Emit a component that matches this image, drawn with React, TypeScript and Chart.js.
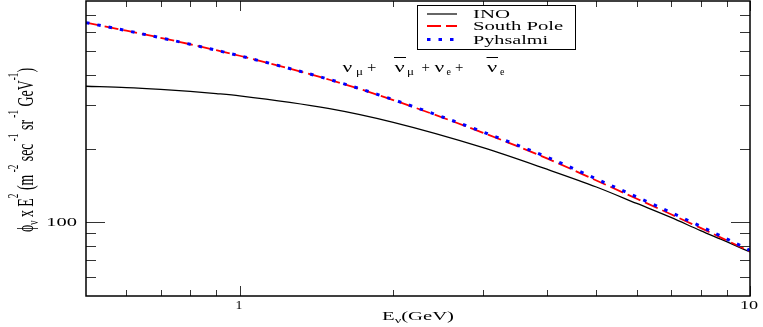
import React, { useEffect, useRef } from "react";
import { Chart, registerables } from "chart.js";
Chart.register(...registerables);

// ---- data ----
const energies = [0.5, 0.6, 0.7, 0.8, 0.9, 1, 1.5, 2, 3, 4, 5, 6, 7, 8, 9, 10];
const inoFlux = [359, 354.7, 348.7, 342.1, 335.2, 328.1, 290.9, 255.7, 201.6, 164.6, 139.3, 119.3, 104.6, 92.4, 83.3, 75.6];
const southPoleFlux = [652.8, 605.4, 566.3, 532.8, 503.6, 478.2, 381.6, 315.3, 231.7, 182.3, 148.1, 124.7, 107.8, 94.8, 84.4, 76.0];
const pyhsalmiFlux = [652.8, 605.4, 566.3, 532.8, 503.6, 478.2, 382.5, 316.5, 233.5, 184.5, 150.3, 126.8, 109.6, 96.3, 85.6, 76.8];

const seriesNames = ["INO", "South Pole", "Pyhsalmi"];
const xMajorTicks = [1, 10];
const xMinorTicks = [0.6, 0.7, 0.8, 0.9, 2, 3, 4, 5, 6, 7, 8, 9];
const yMajorTicks = [100];
const yMinorTicks = [60, 70, 80, 90, 200, 300, 400, 500, 600, 700];
const xTickLabels = ["1", "10"];
const yTickLabels = ["100"];

const SERIF = "'Liberation Serif', 'DejaVu Serif', serif";

type Run = { t: string; s: number; dy?: number };

function ink(ctx: CanvasRenderingContext2D, t: string, size: number) {
  ctx.font = `${size}px ${SERIF}`;
  const m = ctx.measureText(t);
  return { l: m.actualBoundingBoxLeft, w: m.actualBoundingBoxLeft + m.actualBoundingBoxRight };
}

// draw text whose ink starts at x and is stretched horizontally to width w
function fitText(ctx: CanvasRenderingContext2D, t: string, x: number, y: number, size: number, w: number) {
  const k = ink(ctx, t, size);
  const sx = w / k.w;
  ctx.save();
  ctx.translate(x, y);
  ctx.scale(sx, 1);
  ctx.font = `${size}px ${SERIF}`;
  ctx.textAlign = "left";
  ctx.fillText(t, k.l, 0);
  ctx.restore();
}

function runsWidth(ctx: CanvasRenderingContext2D, runs: Run[]) {
  let w = 0;
  for (const r of runs) {
    ctx.font = `${r.s}px ${SERIF}`;
    w += ctx.measureText(r.t).width;
  }
  return w;
}

function drawRuns(ctx: CanvasRenderingContext2D, runs: Run[], x: number) {
  let cx = x;
  for (const r of runs) {
    ctx.font = `${r.s}px ${SERIF}`;
    ctx.fillText(r.t, cx, r.dy || 0);
    cx += ctx.measureText(r.t).width;
  }
}

const decorPlugin = {
  id: "decor",
  afterDraw(chart: any) {
    const ctx: CanvasRenderingContext2D = chart.ctx;
    const { left, right, top, bottom } = chart.chartArea;
    const xs = chart.scales.x;
    const ys = chart.scales.y;
    ctx.save();
    ctx.fillStyle = "#000";
    ctx.strokeStyle = "#000";
    ctx.textBaseline = "alphabetic";

    // ticks (inward)
    ctx.lineWidth = 1;
    ctx.strokeStyle = "#333";
    const xt = (v: number, len: number) => {
      const p = Math.round(xs.getPixelForValue(v)) + 0.5;
      ctx.beginPath();
      ctx.moveTo(p, bottom);
      ctx.lineTo(p, bottom - len);
      ctx.moveTo(p, top);
      ctx.lineTo(p, top + len);
      ctx.stroke();
    };
    const yt = (v: number, len: number) => {
      const p = Math.round(ys.getPixelForValue(v)) + 0.5;
      ctx.beginPath();
      ctx.moveTo(left, p);
      ctx.lineTo(left + len, p);
      ctx.moveTo(right, p);
      ctx.lineTo(right - len, p);
      ctx.stroke();
    };
    xMinorTicks.forEach((v) => xt(v, 6));
    xMajorTicks.forEach((v) => xt(v, 10));
    yMinorTicks.forEach((v) => yt(v, 10));
    yMajorTicks.forEach((v) => yt(v, 19));

    // frame
    ctx.strokeStyle = "#000";
    ctx.lineWidth = 1.5;
    ctx.strokeRect(left, top, right - left, bottom - top);

    // tick labels
    ctx.fillStyle = "#000";
    const xLabelW = [6, 17];
    xMajorTicks.forEach((v, i) => {
      const p = xs.getPixelForValue(v);
      fitText(ctx, xTickLabels[i], p - xLabelW[i] / 2, bottom + 12.5, 11.5, xLabelW[i]);
    });
    yMajorTicks.forEach((v, i) => {
      const p = ys.getPixelForValue(v);
      fitText(ctx, yTickLabels[i], left - 38, p + 4, 12, 29);
    });

    // x title
    {
      const runs: Run[] = [
        { t: "E", s: 13 },
        { t: "ν", s: 9, dy: 3 },
        { t: "(GeV)", s: 13 },
      ];
      const w = runsWidth(ctx, runs);
      const sx = 72 / w;
      ctx.save();
      ctx.translate(382, 320);
      ctx.scale(sx, 1);
      drawRuns(ctx, runs, 0);
      ctx.restore();
    }

    // y title (rotated)
    {
      const runs: Run[] = [
        { t: "ϕ", s: 15 },
        { t: "ν", s: 10, dy: 3 },
        { t: " x E", s: 15 },
        { t: "2", s: 10, dy: -10 },
        { t: " (m", s: 15 },
        { t: " -2", s: 10, dy: -10 },
        { t: " sec", s: 15 },
        { t: " -1", s: 10, dy: -10 },
        { t: " sr", s: 15 },
        { t: " -1", s: 10, dy: -10 },
        { t: " GeV", s: 15 },
        { t: "-1", s: 10, dy: -10 },
        { t: ")", s: 15 },
      ];
      const w = runsWidth(ctx, runs);
      ctx.save();
      ctx.translate(33, 150);
      ctx.rotate(-Math.PI / 2);
      ctx.scale(164 / w, 1.55);
      drawRuns(ctx, runs, -w / 2);
      ctx.restore();
    }

    // annotation: ν_μ + ν̄_μ + ν_e + ν̄_e
    {
      const bar = (x0: number, x1: number) => {
        ctx.lineWidth = 1;
        ctx.strokeStyle = "#000";
        ctx.beginPath();
        ctx.moveTo(x0, 57.5);
        ctx.lineTo(x1, 57.5);
        ctx.stroke();
      };
      fitText(ctx, "ν", 342.5, 71.5, 15, 10);
      fitText(ctx, "μ", 356, 74.5, 10, 6.5);
      fitText(ctx, "+", 367, 71.5, 14, 9.5);
      fitText(ctx, "ν", 394.5, 71.5, 15, 10.5);
      bar(394, 406);
      fitText(ctx, "μ", 407, 74.5, 10, 6.5);
      fitText(ctx, "+", 421.5, 71.5, 14, 8.5);
      fitText(ctx, "ν", 434.5, 71.5, 15, 10);
      fitText(ctx, "e", 446.5, 74.5, 10, 5);
      fitText(ctx, "+", 455, 71.5, 14, 8.5);
      fitText(ctx, "ν", 487, 71.5, 15, 10.5);
      bar(486.5, 498);
      fitText(ctx, "e", 500, 74.5, 10, 5);
    }

    // legend
    {
      const bx = 417, by = 5, bw = 158, bh = 44;
      ctx.fillStyle = "#fff";
      ctx.fillRect(bx, by, bw, bh);
      ctx.lineWidth = 1;
      ctx.strokeStyle = "#000";
      ctx.strokeRect(bx + 0.5, by + 0.5, bw, bh);
      const styles = [
        { c: "#000", dash: [] as number[], lw: 1.2 },
        { c: "#ff0000", dash: [14, 5], lw: 1.8 },
        { c: "#0000ff", dash: [3.5, 8], lw: 3 },
      ];
      const rowsY = [14, 26, 39.5];
      const textW = [37, 91, 76];
      styles.forEach((st, i) => {
        ctx.save();
        ctx.strokeStyle = st.c;
        ctx.lineWidth = st.lw;
        ctx.setLineDash(st.dash);
        ctx.beginPath();
        ctx.moveTo(427, rowsY[i]);
        ctx.lineTo(457, rowsY[i]);
        ctx.stroke();
        ctx.restore();
        ctx.fillStyle = "#000";
        fitText(ctx, seriesNames[i], 473, rowsY[i] + 4, 12.5, textW[i]);
      });
    }
    ctx.restore();
  },
};

export default function App() {
  const ref = useRef<HTMLCanvasElement>(null);
  useEffect(() => {
    document.body.style.margin = "0";
    const canvas = ref.current!;
    const mk = (ys: number[]) => energies.map((e, i) => ({ x: e, y: ys[i] }));
    const chart = new Chart(canvas, {
      type: "line",
      data: {
        datasets: [
          {
            label: seriesNames[0],
            data: mk(inoFlux),
            borderColor: "#000",
            borderWidth: 1.3,
            order: 2,
          },
          {
            label: seriesNames[1],
            data: mk(southPoleFlux),
            borderColor: "#ff0000",
            borderWidth: 1.8,
            borderDash: [14, 5],
            order: 1,
          },
          {
            label: seriesNames[2],
            data: mk(pyhsalmiFlux),
            borderColor: "#0000ff",
            borderWidth: 3,
            borderDash: [3.5, 8],
            order: 0,
          },
        ],
      },
      options: {
        responsive: false,
        animation: false,
        devicePixelRatio: 1,
        layout: { padding: { left: 86, right: 13, top: 1, bottom: 31 } },
        elements: {
          point: { radius: 0 },
          line: { cubicInterpolationMode: "monotone", fill: false },
        },
        plugins: { legend: { display: false }, tooltip: { enabled: false } },
        scales: {
          x: { type: "logarithmic", min: 0.5, max: 10, display: false },
          y: { type: "logarithmic", min: 50, max: 800, display: false },
        },
      },
      plugins: [decorPlugin],
    } as any);
    return () => chart.destroy();
  }, []);
  return <canvas ref={ref} width={763} height={327} style={{ display: "block" }} />;
}
